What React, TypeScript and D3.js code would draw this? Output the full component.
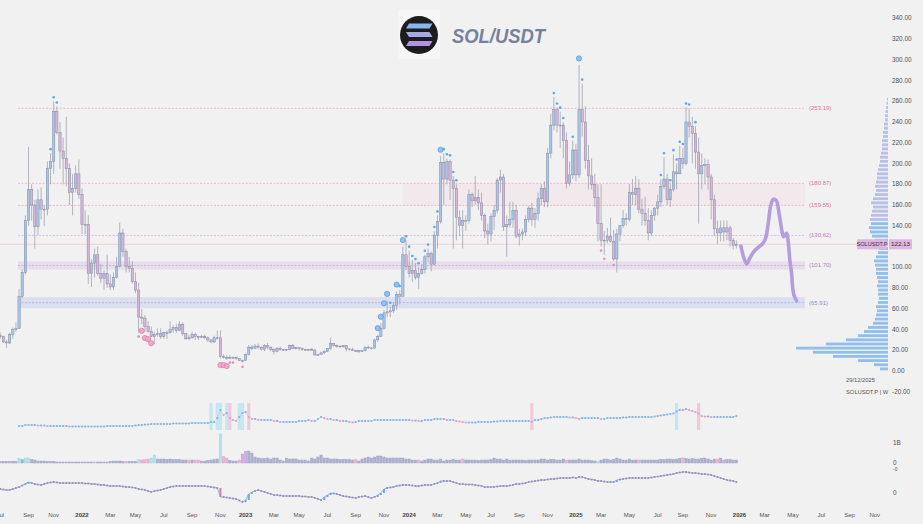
import React from "react";
import * as d3 from "d3";

// ---------- DATA ----------
const firstWeek = "2021-07-05";
const lastWeekStop = "2026-01-01";
const firstOpen = 34;

const close2021 = [33,28,27,35,40,41,72,95,145,175,160,139,165,156,156,195,202,250,230,212,205,195,172,176,190,170];
const high2021 = [37,34,30,37,42,47,79,98,150,216,180,165,175,177,160,202,210,260,255,240,225,245,200,190,198,204];
const low2021 = [31,27,22,26,31,38,42,70,93,140,145,118,131,146,140,150,180,190,228,195,180,178,160,150,172,166];

const close2022 = [141,141,94,104,112,94,89,94,84,81,90,101,133,115,101,99,86,78,52,51,43,38,33,35,36,33,37,37,40,42,39,45,36,31,32,35,33,33,33,32,30,28,32,32,14,13,13,13,13,12,10,10];
const high2022 = [176,155,150,108,118,120,103,97,112,93,95,110,143,137,118,110,106,95,85,60,54,48,43,38,41,41,38,39,48,44,45,48,47,36,35,38,37,34,35,35,33,30,34,39,39,16,15,15,14,14,12.5,11];
const low2022 = [132,132,84,81,90,92,85,78,80,78,78,89,100,110,95,95,84,75,37,45,38,37,33,26,33,31,31,31,36,37,37,39,34,30,30,31,30,30,32,31,28,27,27,30,12,12,11,12,12,11,9.5,8];

const close2023 = [16,23,22,24,23,21,24.5,23,20.5,19,21.5,20.5,20.8,20.5,24.7,21.5,22.5,21.5,20.5,20.2,20.8,20.2,15.5,16,17.5,18.8,21.6,26.8,24.5,24,23.3,24.5,21.3,20.8,19.7,18.7,19.6,19.5,23,22.3,22,30,33.5,41,56,57,58,63,74,72,112,101];
const high2023 = [17,25,25,26,26.5,23.5,26,27,23.5,22,23,23.5,21.5,21.5,25.5,26,23.5,23,22.8,21.5,20.8,22,21,16.5,18.5,20,22,32,27,25.5,24.5,25,25,21.6,22.5,20.2,20.2,20.5,23.3,24.5,22.5,31,35,46,59,68,62,66,77,78,120,126];
const low2023 = [9.8,15,20,21,21.5,19.5,19,21,19,16,18,19.5,19.5,19.5,20,21,20.8,19.5,19.4,19.5,19.5,19.5,14.5,14.5,15.8,16.5,18.5,20.5,23.5,22.5,22.5,22.5,18.8,19.8,19.3,18.5,17.3,18.8,18.9,21,20.5,21.8,28,33,40,52,52,56,59,64,72,97];

const close2024 = [94,97,90,94,98,110,113,103,131,144,201,185,202,184,176,148,140,145,145,170,164,167,162,150,135,132,149,155,184,187,139,141,146,155,130,132,134,146,157,146,152,166,176,163,210,237,252,237,237,222,181,189,213];
const high2024 = [116,107,104,100,103,112,118,115,135,150,207,210,205,204,188,180,155,155,150,175,172,188,175,172,152,142,152,160,186,194,190,150,163,163,160,137,137,150,159,162,157,172,180,183,215,248,264,254,250,240,230,202,222];
const low2024 = [90,86,88,79,93,94,105,96,102,118,142,160,180,165,118,126,130,118,135,142,158,160,155,145,128,122,125,136,152,172,135,110,138,138,128,121,126,130,143,140,138,145,160,158,158,205,232,230,215,205,176,178,185];

const close2025 = [189,252,240,203,188,180,167,142,126,126,130,125,108,132,140,147,146,172,170,176,156,152,145,133,150,157,163,178,185,165,175,192,190,205,200,240,236,229,211,190,198,199,187,165,137,133,138,134,138,126,121,122.13];
const high2025 = [219,295,277,255,218,205,190,180,180,135,138,148,136,137,140,155,152,180,185,188,185,166,168,157,155,158,170,185,206,190,180,209,200,217,215,254,253,245,236,225,210,205,204,190,170,145,145,145,145,140,128,126];
const low2025 = [183,186,226,195,175,175,158,125,120,112,123,124,106,95,125,138,140,144,160,160,152,140,140,126,130,145,150,158,175,160,158,173,175,195,195,198,225,200,195,142,175,180,175,146,130,122,125,125,126,120,117,118];

// lower panel 1 (flow line)
const flow2021 = [null,null,null,null,null,null,4,4,5,5,5,5,4.5,4.5,4.5,4,4,4,4,4,4,4,3.5,3.5,3.5,3.5];
const flow2022 = [3.5,3.5,3.5,3.5,3.5,3.5,3.5,3.5,4,4,4,4,4,4,4,4,4,4.5,5,5,5.5,5.5,6,6,6,6,6,6,6,6.5,6.5,6.5,6.5,6.5,6.5,7,7,7,7,7,7,8,8,12,20,15,17,12,10,9,13,17];
const flow2023 = [18,13,11,11,10,10,10,10,10,9,9,8,8,8,8,8,8,9,9,9,10,9,9,11,13,12,11,11,10,10,9,9,9,8,7.5,8,9,9,9,9,9,10,10,10,10,10,10,10,10,10,10,10];
const flow2024 = [10,9.5,9.5,9,9,10,10,10,11,11,11,11,10,10,10,9,8.5,8,7.5,7.5,7.5,7.5,8,8,8,8,8,8.5,8.5,9,9,9,9,9,9,9,9,9,9,8,10,10,11,12,12,12.5,13,13,13,13,13,12.5,12.5];
const flow2025 = [12,11,12,12,12,12,12,12,11,11,12,12,12,12,12,12.5,12.5,13,13,13,13,13,13,13,13,13.5,14,14.5,15,15.5,16,16.5,18.5,20,20,21,20,19,18,16.5,14,13.5,13.5,13,13,13,13,13,13,13,13,14];
const hlCyanWeeks = [67,69,70,72,76,77,215];
const hlPinkWeeks = [73,79,169,222];

// lower panel 2 (volume-like bars)
const vol2021 = [1.5,1.5,1.5,1.5,1.5,1.5,4.7,3.3,5,5,3.3,3,2,2,2,1.5,1.5,1.5,1,1,1,1,1,1,1,1];
const vol2022 = [1,1,1,1,1,1,1,1,1,1.5,2,2,2,1.5,1.5,1.5,1.5,1.5,3.3,3,3.3,4,5,8,4,4,4,3.5,4,3.5,3.5,3.5,3,3,3,3,3,3,2,2,2.5,3,3.5,4,29,6.7,5,2.7,2,2,3,9];
const vol2023 = [11.7,12,10,6,5,4.5,4.5,5,4,5,5,3,2,5,4,4,4,3,3,3,2,5,4,6,8,5,5,4,4,4,3.5,3.5,3.5,3.5,3,3.5,2,4,5,6,5,6,7,7,6,5,5,5,5,5,5,4];
const vol2024 = [4,3,3,3,2,3,4,4,3,3,4,2,3,3,3.5,3,3,4,3,3,3,3,2.5,3,3,3,3.5,5,4,4,3,4,3,3,3,3,3,2.5,3,3,3,3,4,4,3,3.5,3.5,3,3,4,3,3,3];
const vol2025 = [3,4,3,3,3,2.5,2,2,3,4,4,3,3.5,5,4,3,3,4,3,3,3,3,3,3,3,3,3,3.5,3.5,4,4,3.5,4,4.5,5,4.5,4,4.5,4,4,4.5,5,4,3,4,4,5,3,3.5,3.5,3,3];
const volCyanWeeks = [6,8,9,44,48,49,70,190];
const volPinkWeeks = [30,40,45,46,47,60,62,63,71,72,76,113,133,147,180,203,217,228];
const volPurpleWeeks = [77,78,230];

// lower panel 3 (oscillator)
const osc2021 = [4,3.5,3,3,4,5,6,7.5,9,11,10,9,8.5,8,9,10,10.5,11,10.5,10,10,10,10,10,10,10];
const osc2022 = [10,9.5,9.5,9,9,8.5,8,8,7.5,7,7,7,7,6.5,6,6,5.5,5,4,3.5,3,2,1,2,2.5,3,4,5,6,6.5,7,7,7,7,7,7,7,7,7,7,6.5,6,5.5,5,-4,-4,-4.5,-5,-5.5,-6,-7.5,-9];
const osc2023 = [-7,-1,1,2,3,2,1,0,-1,-2,-2,-2.5,-3,-3,-3,-3,-3,-3,-3.5,-3.5,-4,-4,-5,-6,-7,-4,-2,0,-0.5,-1,-2,-3,-3.5,-4,-4.5,-5,-4,-3.5,-3,-4,-5,-4,-2,0,4,5,5.5,6,7,7.5,8,8];
const osc2024 = [8,7.5,7,7,7.5,8,8,8,9,10,12,12,12,12,11,10,9,9,8.5,8.5,8.5,8,7.5,7,6,6,6,6,6.5,7,7,7,7.5,8,9,9,9.5,10,11,11.5,12,12.5,13,13,13.5,14,14,14.5,15,15,15,15,15.5];
const osc2025 = [15,16,16,15,14,13.5,13,12,12,11.5,11,11,11,13,13.5,14,14.5,15,15,15,15,15,15,15,15.5,16,16.5,17,17.5,18,18.5,19,20,20.5,21,21,20.5,20,20,19.5,19,19,18.5,18,17,16,15,14,13,12.5,12,11];

// signal markers (week indices)
const sigUpBig = [120,121,122,123,126,128,140,184];
const sigUpSmall = [16,17,18,124,127,129,130,131,132,133,135,136,138,139,141,142,143,144,145,176,177,178,179,182,185,210,211,213,214,215,216,217,218,219,221];
const sigDownBig = [45,46,47,48,70,71,72];
const sigDownSmall = [44,73,74,77,191,192,195];

// horizontal levels
const levelValues = [253.19, 180.87, 159.55, 130.62, 101.70, 65.91];
const levelKinds = ["pink", "pink", "pink", "violet", "vband", "bband"];
const zoneLow = 159.55;
const zoneHigh = 180.87;
const zoneStartWeek = 128;
const vbandHalf = 3.9;
const bbandHalf = 5.3;
const lastPrice = 122.13;

// projection path
const projDates = ["2026-01-08","2026-01-15","2026-01-21","2026-01-28","2026-02-06","2026-02-16","2026-02-25","2026-03-04","2026-03-10","2026-03-15","2026-03-21","2026-03-28","2026-04-03","2026-04-09","2026-04-13","2026-04-20","2026-04-23","2026-04-27","2026-05-01","2026-05-03","2026-05-06","2026-05-12"];
const projPrices = [120.5,108.6,103.1,108.9,115,119.2,122.4,127.9,142.4,158.4,165.5,164.1,152,135.9,129.4,132.7,126.3,107,94.2,81.3,73.3,67.8];

// volume profile (bins of 4 from 0)
const vpStep = 4;
const vpWidths = [8,14,30,55,75,92,62,42,30,24,20,15,13,12,11,12,10,9,10,10,11,10,11,12,12,13,14,12,10,9,11,13,16,18,19,17,18,17,16,15,17,15,13,12,13,12,11,11,10,9,8,8,7,6,6,6,5,5,4,4,3,3,2.5,2,1.5,1];

const priceTicks = [-20,0,20,40,60,80,100,120,140,160,180,200,220,240,260,280,300,320,340];

// ---------- COMPONENT ----------
const FONT = "'Liberation Sans', Arial, sans-serif";

export default function App() {
  const closes = [...close2021, ...close2022, ...close2023, ...close2024, ...close2025];
  const highs = [...high2021, ...high2022, ...high2023, ...high2024, ...high2025];
  const lows = [...low2021, ...low2022, ...low2023, ...low2024, ...low2025];
  const flows = [...flow2021, ...flow2022, ...flow2023, ...flow2024, ...flow2025];
  const vols = [...vol2021, ...vol2022, ...vol2023, ...vol2024, ...vol2025];
  const oscs = [...osc2021, ...osc2022, ...osc2023, ...osc2024, ...osc2025];

  const weeks = d3.utcMonday.range(new Date(firstWeek + "T00:00:00Z"), new Date(lastWeekStop + "T00:00:00Z"));
  const x = d3.scaleUtc()
    .domain([new Date(Date.UTC(2022, 0, 3)), new Date(Date.UTC(2026, 0, 5))])
    .range([82, 739.5]);
  const y = d3.scaleLinear().domain([0, 340]).range([371, 18.25]);
  const yFlow = d3.scaleLinear().domain([0, 30]).range([430, 400]);
  const yVol = d3.scaleLinear().domain([0, 30]).range([463, 433]);
  const yOsc = d3.scaleLinear().domain([-10, 22]).range([503, 471]);

  const candles = weeks.map((d, i) => {
    const o = i === 0 ? firstOpen : closes[i - 1];
    const c = closes[i];
    return { d, o, c, h: Math.max(highs[i], o, c), l: Math.min(lows[i], o, c) };
  }).filter((c) => c.c !== undefined);

  const bw = 2.3;
  const lineX0 = 18;
  const lineX1 = 805;

  const months = d3.utcMonth.every(2).range(new Date(Date.UTC(2021, 6, 1)), new Date(Date.UTC(2026, 11, 1)));
  const fmtMon = d3.utcFormat("%b");

  const projLine = d3.line().curve(d3.curveCatmullRom.alpha(0.5))(
    projDates.map((s, i) => [x(new Date(s + "T00:00:00Z")), y(projPrices[i])])
  );

  const flowPts = flows.map((v, i) => (v === null ? null : [x(weeks[i]), yFlow(v)])).filter(Boolean);
  const flowLine = d3.line()(flowPts);
  const oscLine = d3.line()(oscs.map((v, i) => [x(weeks[i]), yOsc(v)]));

  const levelStyle = (k) => {
    if (k === "pink") return { line: "#f0a3bb", text: "#e07399" };
    if (k === "violet") return { line: "#dca3d8", text: "#c57ac4" };
    if (k === "vband") return { line: "#c9a3d6", text: "#a77fb8" };
    return { line: "#a3aae0", text: "#8a8fc6" };
  };

  const volColor = (i) => {
    if (volCyanWeeks.includes(i)) return ["#b3e3ef", "#8fd0e2"];
    if (volPinkWeeks.includes(i)) return ["#ecb6d6", "#dc98c0"];
    if (volPurpleWeeks.includes(i)) return ["#cdb0e6", "#b593d6"];
    return ["#b0b2d4", "#9497c0"];
  };

  const logoBars = [
    { y0: 23.5, fill: "#82b9ef", dir: 1 },
    { y0: 32, fill: "#a6a9e6", dir: -1 },
    { y0: 41, fill: "#b394de", dir: 1 },
  ];

  const tagY = y(lastPrice);

  return (
    <svg width={923} height={524} style={{ position: "absolute", left: 0, top: 0, fontFamily: FONT }}>
      <rect x={0} y={0} width={923} height={524} fill="#f1f1f1" />

      {/* zones and levels */}
      <rect x={x(weeks[zoneStartWeek])} y={y(zoneHigh)} width={lineX1 - x(weeks[zoneStartWeek])}
        height={y(zoneLow) - y(zoneHigh)} fill="rgba(244,186,200,0.15)" />
      {levelValues.map((v, i) => {
        const k = levelKinds[i];
        const st = levelStyle(k);
        return (
          <g key={"lv" + i}>
            {k === "vband" && (
              <rect x={lineX0} y={y(v + vbandHalf)} width={lineX1 - lineX0} height={y(v - vbandHalf) - y(v + vbandHalf)} fill="rgba(208,180,226,0.3)" />
            )}
            {k === "bband" && (
              <rect x={lineX0} y={y(v + bbandHalf)} width={lineX1 - lineX0} height={y(v - bbandHalf) - y(v + bbandHalf)} fill="rgba(178,188,236,0.34)" />
            )}
            <line x1={lineX0} x2={lineX1} y1={y(v)} y2={y(v)} stroke={st.line} strokeWidth={0.7} strokeDasharray="2,1.5" />
            <text x={809} y={y(v) + 2} fontSize={6} fill={st.text}>({v.toFixed(2)})</text>
          </g>
        );
      })}
      <line x1={0} x2={857} y1={tagY} y2={tagY} stroke="#eec9d9" strokeWidth={0.8} />

      {/* volume profile */}
      {vpWidths.map((w, i) => {
        const p0 = i * vpStep;
        const top = y(p0 + vpStep);
        const h = y(p0) - top - 1.3;
        return (
          <rect key={"vp" + i} x={888 - w} y={top + 0.6} width={w} height={Math.max(h, 0.8)}
            fill={p0 >= 144 ? "#b9c0e7" : "#91bfeb"} />
        );
      })}

      {/* candles */}
      {candles.map((c, i) => {
        const cx = x(c.d);
        const up = c.c >= c.o;
        const top = y(Math.max(c.o, c.c));
        const bot = y(Math.min(c.o, c.c));
        return (
          <g key={"c" + i}>
            <line x1={cx} x2={cx} y1={y(c.h)} y2={y(c.l)} stroke="#979aa8" strokeWidth={0.7} />
            <rect x={cx - bw / 2} y={top} width={bw} height={Math.max(bot - top, 0.8)}
              fill={up ? "#a7c5ea" : "#d8b3da"} stroke="#7f8498" strokeWidth={0.45} />
          </g>
        );
      })}

      {/* signal markers */}
      {sigUpSmall.map((k) => (
        <circle key={"us" + k} cx={x(weeks[k])} cy={y(candles[k].h) - 4} r={1.3} fill="#5ea7ee" />
      ))}
      {sigUpBig.map((k) => (
        <circle key={"ub" + k} cx={x(weeks[k])} cy={y(candles[k].h) - 6.5} r={2.6} fill="#8dc2f2" stroke="#5b9fe6" strokeWidth={0.8} />
      ))}
      {sigDownSmall.map((k) => (
        <circle key={"ds" + k} cx={x(weeks[k])} cy={y(candles[k].l) + 4} r={1.3} fill="#e68cb6" />
      ))}
      {sigDownBig.map((k) => (
        <circle key={"db" + k} cx={x(weeks[k])} cy={y(candles[k].l) + 6.5} r={2.6} fill="#efaacb" stroke="#df7eaa" strokeWidth={0.8} />
      ))}

      {/* projection */}
      <path d={projLine} fill="none" stroke="#b49ddf" strokeWidth={3.6} strokeLinecap="round" strokeLinejoin="round" />

      {/* panel 1 */}
      {hlCyanWeeks.map((k) => (
        <rect key={"hc" + k} x={x(weeks[k]) - 1.6} y={403} width={3.2} height={27} fill="rgba(160,222,238,0.55)" />
      ))}
      {hlPinkWeeks.map((k) => (
        <rect key={"hp" + k} x={x(weeks[k]) - 1.6} y={403} width={3.2} height={27} fill="rgba(242,176,204,0.6)" />
      ))}
      <path d={flowLine} fill="none" stroke="#c9c7de" strokeWidth={0.7} />
      {flows.map((v, i) => {
        if (v === null) return null;
        const prev = i > 0 && flows[i - 1] !== null ? flows[i - 1] : v;
        const col = v >= prev ? "#7ab3ec" : "#e99bc2";
        return <rect key={"fl" + i} x={x(weeks[i]) - 0.9} y={yFlow(v) - 0.9} width={1.8} height={1.8} fill={col} />;
      })}

      {/* panel 2 */}
      {vols.map((v, i) => {
        const [f, s] = volColor(i);
        const top = yVol(v);
        return <rect key={"vb" + i} x={x(weeks[i]) - 1.15} y={top} width={2.3} height={463 - top} fill={f} stroke={s} strokeWidth={0.4} />;
      })}

      {/* panel 3 */}
      <path d={oscLine} fill="none" stroke="#a3a5cb" strokeWidth={0.9} />
      {oscs.map((v, i) => {
        const prev = i > 0 ? oscs[i - 1] : v;
        const dv = v - prev;
        const col = dv > 1.5 ? "#6aa9ec" : dv < -1.5 ? "#d77faa" : "#8e91bf";
        const h = Math.max(Math.abs(yOsc(v) - yOsc(prev)), 1.8);
        const top = Math.min(yOsc(v), yOsc(prev));
        return Math.abs(dv) > 1.5
          ? <rect key={"os" + i} x={x(weeks[i]) - 1} y={top} width={2} height={h} fill={col} />
          : <rect key={"os" + i} x={x(weeks[i]) - 0.9} y={yOsc(v) - 0.9} width={1.8} height={1.8} fill={col} />;
      })}

      {/* right price axis */}
      {priceTicks.filter((t) => Math.abs(y(t) - tagY) > 7).map((t) => (
        <text key={"pt" + t} x={892} y={y(t) + 2.2} fontSize={6.4} fill="#4f4f4f">{t.toFixed(2)}</text>
      ))}
      <rect x={857} y={tagY - 5} width={30} height={10} fill="#dcb6e6" />
      <text x={872} y={tagY + 2} fontSize={5.6} fill="#333" textAnchor="middle">SOLUSDT.P</text>
      <rect x={889} y={tagY - 5} width={23} height={10} fill="#dcb6e6" />
      <text x={900.5} y={tagY + 2.2} fontSize={6.2} fill="#333" textAnchor="middle">{lastPrice.toFixed(2)}</text>
      <text x={846} y={382} fontSize={5.8} fill="#555">29/12/2025</text>
      <text x={846} y={394} fontSize={5.8} fill="#555">SOLUSDT.P | W</text>

      {/* lower panel labels */}
      <text x={893} y={445} fontSize={6.4} fill="#4f4f4f">1B</text>
      <text x={893} y={465} fontSize={6.4} fill="#4f4f4f">0</text>
      <text x={893} y={471} fontSize={5} fill="#4f4f4f">-0</text>
      <text x={893} y={495} fontSize={6.4} fill="#4f4f4f">0</text>

      {/* time axis */}
      {months.map((m, i) => {
        const bar = d3.utcMonday.ceil(m);
        const px = x(bar);
        if (px < -2 || px > 900) return null;
        const isYear = m.getUTCMonth() === 0;
        return (
          <text key={"m" + i} x={px} y={517} fontSize={6} textAnchor="middle" fill={isYear ? "#3f3f3f" : "#555"} fontWeight={isYear ? 600 : 400}>
            {isYear ? String(m.getUTCFullYear()) : fmtMon(m)}
          </text>
        );
      })}

      {/* title */}
      <rect x={398} y={10} width={42} height={49} fill="#f6f6f6" />
      <circle cx={419} cy={35} r={19} fill="#1d1d1f" />
      {logoBars.map((b, i) => {
        const x0 = 406, x1 = 432.5, h = 5, s = 3;
        const pts = b.dir === 1
          ? [[x0 + s, b.y0], [x1, b.y0], [x1 - s, b.y0 + h], [x0, b.y0 + h]]
          : [[x0, b.y0], [x1 - s, b.y0], [x1, b.y0 + h], [x0 + s, b.y0 + h]];
        return <polygon key={"lb" + i} points={pts.map((p) => p.join(",")).join(" ")} fill={b.fill} />;
      })}
      <text x={452} y={43} fontSize={21} fontWeight={700} fontStyle="italic" fill="#77829a"
        textLength={93} lengthAdjust="spacingAndGlyphs">SOL/USDT</text>
    </svg>
  );
}
